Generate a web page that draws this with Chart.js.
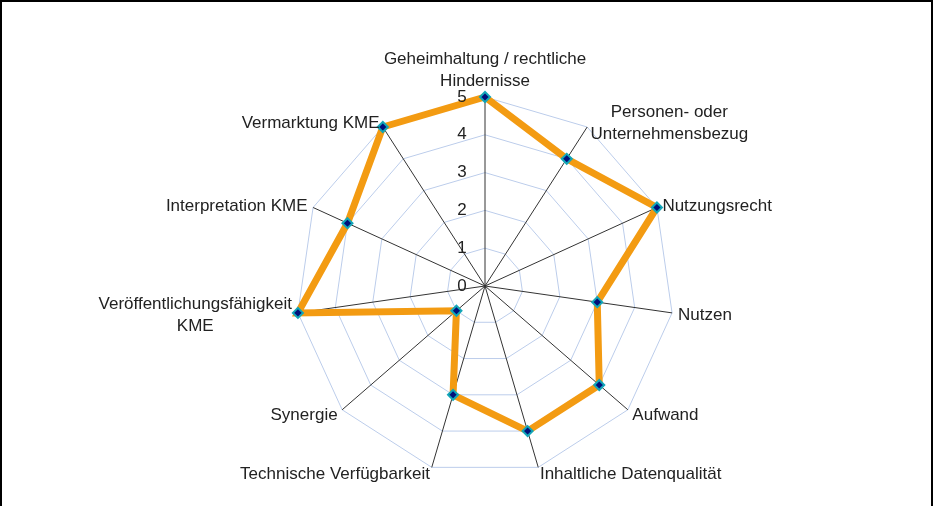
<!DOCTYPE html>
<html>
<head>
<meta charset="utf-8">
<script src="https://cdn.jsdelivr.net/npm/chart.js@4"></script>
<style>
    html, body { margin: 0; padding: 0; background: #fff; }
    #frame {
        position: absolute; left: 0; top: 0;
        width: 933px; height: 520px;
        border-left: 2px solid #000; border-top: 2px solid #000; border-right: 2px solid #000;
        box-sizing: border-box;
    }
    #wrap { position: absolute; left: 0; top: 0; width: 933px; height: 506px; }
</style>
</head>
<body>
<div id="frame"></div>
<div id="wrap"><canvas id="radar" width="933" height="506"></canvas></div>
<script>
// --- DATI ---
const kriterien = [
    ['Geheimhaltung / rechtliche', 'Hindernisse'],
    ['Personen- oder', 'Unternehmensbezug'],
    'Nutzungsrecht',
    'Nutzen',
    'Aufwand',
    'Inhaltliche Datenqualität',
    'Technische Verfügbarkeit',
    'Synergie',
    ['Veröffentlichungsfähigkeit', 'KME'],
    'Interpretation KME',
    'Vermarktung KME'
];
const bewertung = [5, 4, 5, 3, 4, 4, 3, 1, 5, 4, 5];
const skalaTicks = [0, 1, 2, 3, 4, 5];

const fontFamily = '"Liberation Sans", Arial, sans-serif';

// Beschriftungen selbst zeichnen (Ticks links der Achse, Kategorien mittig zur Achse)
const labelPlugin = {
    id: 'labelPlugin',
    afterDraw(chart) {
        const scale = chart.scales.r;
        const ctx = chart.ctx;
        ctx.save();
        ctx.font = '17px ' + fontFamily;
        ctx.fillStyle = '#222';
        ctx.textAlign = 'center';
        ctx.textBaseline = 'middle';
        // Tick-Werte
        skalaTicks.forEach(v => {
            const p = scale.getPointPositionForValue(0, v);
            ctx.fillText(String(v), p.x - 23, p.y);
        });
        // Kategorien
        const lh = 22;
        kriterien.forEach((lab, i) => {
            const lines = Array.isArray(lab) ? lab : [lab];
            const pos = scale.getPointPosition(i, scale.drawingArea + 6);
            const blockW = Math.max(...lines.map(l => ctx.measureText(l).width));
            const dx = Math.cos(pos.angle);
            const dy = Math.sin(pos.angle);
            let cx = pos.x;
            if (dx > 0.05) cx = pos.x + blockW / 2;
            else if (dx < -0.05) cx = pos.x - blockW / 2;
            let y0;
            if (dy < -0.95) y0 = pos.y - 10 - lh * (lines.length - 1);
            else y0 = pos.y + 1.5 - lh * (lines.length - 1) / 2;
            lines.forEach((l, k) => ctx.fillText(l, cx, y0 + k * lh));
        });
        ctx.restore();
    }
};

const ctx = document.getElementById('radar').getContext('2d');
new Chart(ctx, {
    type: 'radar',
    data: {
        labels: kriterien,
        datasets: [{
            data: bewertung,
            clip: false,
            borderColor: '#f39b12',
            borderWidth: 7,
            fill: false,
            pointStyle: 'rectRot',
            pointRadius: 5,
            pointBorderWidth: 2,
            pointBackgroundColor: '#00107a',
            pointBorderColor: '#12a6b8'
        }]
    },
    options: {
        responsive: false,
        animation: false,
        layout: { padding: { top: 97, bottom: 31, left: 37, right: 0 } },
        plugins: {
            legend: { display: false },
            tooltip: { enabled: false }
        },
        scales: {
            r: {
                min: 0,
                max: 5,
                ticks: { display: false, stepSize: 1 },
                grid: { color: '#bccdeb', lineWidth: 1 },
                angleLines: { color: '#333', lineWidth: 1 },
                pointLabels: { display: false }
            }
        }
    },
    plugins: [labelPlugin]
});
</script>
</body>
</html>
